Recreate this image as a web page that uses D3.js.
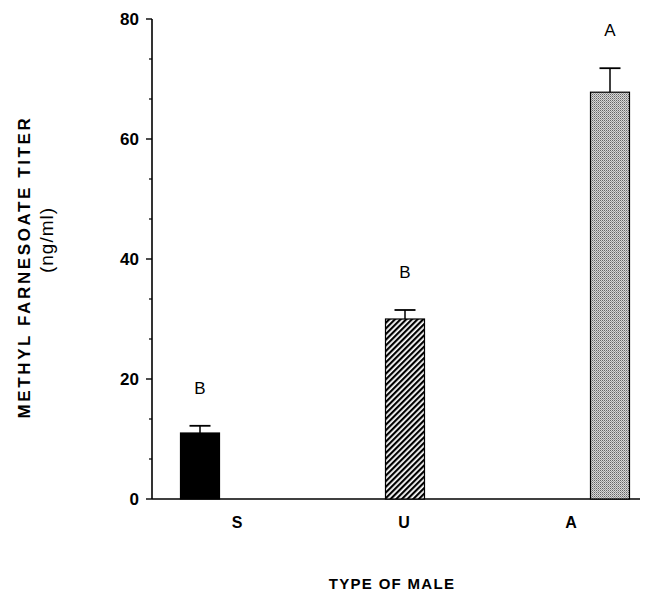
<!DOCTYPE html>
<html>
<head>
<meta charset="utf-8">
<script src="https://cdn.jsdelivr.net/npm/d3@7"></script>
<style>
  body { margin: 0; background: #fff; }
  svg { display: block; font-family: "Liberation Sans", Arial, sans-serif; }
</style>
</head>
<body>
<svg id="chart" width="660" height="591"></svg>
<script>
// --- Data ---
const categories = ["S", "U", "A"];
const means = [11, 30, 67.8];
const errors = [1.2, 1.5, 4];
const letters = ["B", "B", "A"];
const yTicks = [0, 20, 40, 60, 80];

const svg = d3.select("#chart");

// --- Patterns for bar fills ---
const defs = svg.append("defs");
const hatch = defs.append("pattern")
    .attr("id", "hatch")
    .attr("patternUnits", "userSpaceOnUse")
    .attr("width", 4).attr("height", 4)
    .attr("patternTransform", "rotate(45)");
hatch.append("rect").attr("width", 4).attr("height", 4).attr("fill", "#fff");
hatch.append("rect").attr("width", 2.2).attr("height", 4).attr("fill", "#000");

const stipple = defs.append("pattern")
    .attr("id", "stipple")
    .attr("patternUnits", "userSpaceOnUse")
    .attr("width", 2).attr("height", 2);
stipple.append("rect").attr("width", 2).attr("height", 2).attr("fill", "#d8d8d8");
stipple.append("rect").attr("width", 1).attr("height", 1).attr("fill", "#666");
stipple.append("rect").attr("x", 1).attr("y", 1).attr("width", 1).attr("height", 1).attr("fill", "#999");

const fills = ["#000", "url(#hatch)", "url(#stipple)"];

// --- Scales ---
const axisX = 152;
const y = d3.scaleLinear().domain([0, 80]).range([499, 19]);
const x = d3.scalePoint().domain(categories).range([200, 610]);
const xLabel = d3.scalePoint().domain(categories).range([237, 571]);
const barW = 39;

// --- Y axis ---
const yAxisG = svg.append("g").attr("transform", `translate(${axisX},0)`);
yAxisG.append("line")
    .attr("y1", y(0)).attr("y2", y(80))
    .attr("stroke", "#000").attr("stroke-width", 1.6);

// minor ticks: three divisions per major step
const minor = [];
for (let i = 0; i < yTicks.length - 1; i++) {
    const step = (yTicks[i + 1] - yTicks[i]) / 3;
    minor.push(yTicks[i] + step, yTicks[i] + 2 * step);
}
yAxisG.selectAll(".minor").data(minor).enter().append("line")
    .attr("x1", -3).attr("x2", 0)
    .attr("y1", d => y(d)).attr("y2", d => y(d))
    .attr("stroke", "#000").attr("stroke-width", 1.2);

yAxisG.selectAll(".major").data(yTicks).enter().append("line")
    .attr("x1", -6).attr("x2", 0)
    .attr("y1", d => y(d)).attr("y2", d => y(d))
    .attr("stroke", "#000").attr("stroke-width", 1.4);

yAxisG.selectAll(".lbl").data(yTicks).enter().append("text")
    .attr("x", -13).attr("y", d => y(d))
    .attr("dy", "0.36em")
    .attr("text-anchor", "end")
    .attr("font-size", "17px").attr("font-weight", "bold")
    .text(d => d);

// --- Baseline ---
svg.append("line")
    .attr("x1", axisX).attr("x2", 640)
    .attr("y1", y(0)).attr("y2", y(0))
    .attr("stroke", "#000").attr("stroke-width", 1.6);

// --- Bars ---
const data = categories.map((c, i) => ({ c, m: means[i], e: errors[i], l: letters[i], f: fills[i] }));

svg.selectAll(".bar").data(data).enter().append("rect")
    .attr("x", d => x(d.c) - barW / 2)
    .attr("width", barW)
    .attr("y", d => y(d.m))
    .attr("height", d => y(0) - y(d.m))
    .attr("fill", d => d.f)
    .attr("stroke", "#000").attr("stroke-width", 1.2);

// error bars (upper only)
svg.selectAll(".err").data(data).enter().append("line")
    .attr("x1", d => x(d.c)).attr("x2", d => x(d.c))
    .attr("y1", d => y(d.m)).attr("y2", d => y(d.m + d.e))
    .attr("stroke", "#000").attr("stroke-width", 1.5);
svg.selectAll(".cap").data(data).enter().append("line")
    .attr("x1", d => x(d.c) - 10.5).attr("x2", d => x(d.c) + 10.5)
    .attr("y1", d => y(d.m + d.e)).attr("y2", d => y(d.m + d.e))
    .attr("stroke", "#000").attr("stroke-width", 1.8);

// significance letters
svg.selectAll(".sig").data(data).enter().append("text")
    .attr("x", d => x(d.c))
    .attr("y", d => y(d.m + d.e) - 32)
    .attr("text-anchor", "middle")
    .attr("font-size", "17px")
    .text(d => d.l);

// category labels
svg.selectAll(".cat").data(categories).enter().append("text")
    .attr("x", d => xLabel(d))
    .attr("y", 528)
    .attr("text-anchor", "middle")
    .attr("font-size", "16px").attr("font-weight", "bold")
    .text(d => d);

// --- Axis titles ---
svg.append("text")
    .attr("x", 392).attr("y", 589)
    .attr("text-anchor", "middle")
    .attr("font-size", "15px").attr("font-weight", "bold")
    .attr("letter-spacing", "1.3px")
    .text("TYPE OF MALE");

svg.append("text")
    .attr("transform", "translate(30,267) rotate(-90)")
    .attr("text-anchor", "middle")
    .attr("font-size", "17px").attr("font-weight", "bold")
    .attr("letter-spacing", "2.6px")
    .text("METHYL FARNESOATE TITER");

svg.append("text")
    .attr("transform", "translate(53,240) rotate(-90)")
    .attr("text-anchor", "middle")
    .attr("font-size", "19px")
    .attr("letter-spacing", "1px")
    .text("(ng/ml)");
</script>
</body>
</html>
